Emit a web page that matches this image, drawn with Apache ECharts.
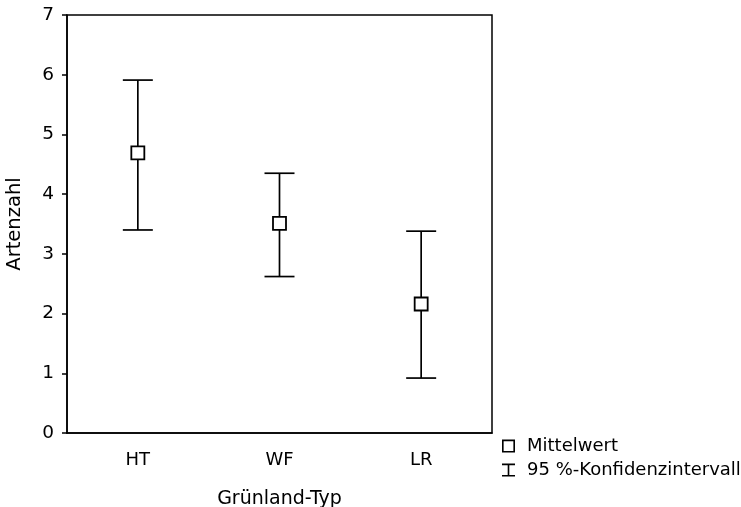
<!DOCTYPE html>
<html>
<head>
    <meta charset="utf-8"/>
    <script src="https://cdn.jsdelivr.net/npm/echarts@6/dist/echarts.min.js"></script>
    <style>
        html, body { margin: 0; padding: 0; background: #fff; }
        #container { width: 741px; height: 507px; }
    </style>
</head>
<body>
<div id="container"></div>
<script type="text/javascript">
    var categories = ['HT', 'WF', 'LR'];
    var means = [4.69, 3.51, 2.16];
    var upper = [5.91, 4.35, 3.38];
    var lower = [3.40, 2.62, 0.92];
    var yTicks = [0, 1, 2, 3, 4, 5, 6, 7];

    var font = 'DejaVu Sans';
    var ciData = [];
    for (var i = 0; i < categories.length; i++) {
        ciData.push([i, lower[i], upper[i]]);
    }

    function renderBar(params, api) {
        var x = api.value(0);
        var lo = api.coord([x, api.value(1)]);
        var hi = api.coord([x, api.value(2)]);
        var half = 15;
        var style = { stroke: '#000', lineWidth: 1.7 };
        return {
            type: 'group',
            children: [
                { type: 'line', shape: { x1: hi[0], y1: hi[1], x2: lo[0], y2: lo[1] }, style: style },
                { type: 'line', shape: { x1: hi[0] - half, y1: hi[1], x2: hi[0] + half, y2: hi[1] }, style: style },
                { type: 'line', shape: { x1: lo[0] - half, y1: lo[1], x2: lo[0] + half, y2: lo[1] }, style: style }
            ]
        };
    }

    var myChart = echarts.init(document.getElementById('container'));
    var option = {
        backgroundColor: '#fff',
        animation: false,
        textStyle: { fontFamily: font, color: '#000' },
        grid: {
            left: 67, top: 15, right: 249, bottom: 74,
            outerBoundsMode: 'none',
            containLabel: false,
            show: true, borderColor: '#000', borderWidth: 1.5, backgroundColor: 'transparent'
        },
        legend: {
            orient: 'vertical',
            left: 502,
            top: 437,
            padding: 0,
            itemWidth: 13,
            itemHeight: 13,
            itemGap: 6,
            selectedMode: false,
            textStyle: { fontFamily: font, fontSize: 18, color: '#000', padding: [0, 0, 0, 7] },
            data: [
                {
                    name: 'Mittelwert',
                    icon: 'path://M0,0h12v12h-12z M1.5,1.5v9h9v-9z',
                    itemStyle: { color: '#000', borderWidth: 0 }
                },
                {
                    name: '95 %-Konfidenzintervall',
                    icon: 'path://M0,0h12v1.5h-12z M5.25,0h1.5v12h-1.5z M0,10.5h12v1.5h-12z',
                    itemStyle: { color: '#000', borderWidth: 0 }
                }
            ]
        },
        xAxis: {
            type: 'category',
            data: categories,
            boundaryGap: true,
            name: 'Grünland-Typ',
            nameLocation: 'middle',
            nameGap: 57,
            nameTextStyle: { fontFamily: font, fontSize: 19, color: '#000' },
            axisLine: { lineStyle: { color: '#000', width: 1.5 } },
            axisTick: { alignWithLabel: true, length: 5, lineStyle: { color: '#000', width: 1.5 } },
            axisLabel: { fontFamily: font, fontSize: 18, color: '#000', margin: 18 },
            splitLine: { show: false }
        },
        yAxis: {
            type: 'value',
            min: yTicks[0],
            max: yTicks[yTicks.length - 1],
            interval: 1,
            name: 'Artenzahl',
            nameLocation: 'middle',
            nameGap: 42,
            nameTextStyle: { fontFamily: font, fontSize: 19.5, color: '#000' },
            axisLine: { show: true, lineStyle: { color: '#000', width: 1.5 } },
            axisTick: { show: true, length: 5, lineStyle: { color: '#000', width: 1.5 } },
            axisLabel: { fontFamily: font, fontSize: 18.5, color: '#000', margin: 13 },
            splitLine: { show: false }
        },
        series: [
            {
                name: '95 %-Konfidenzintervall',
                type: 'custom',
                renderItem: renderBar,
                encode: { x: 0, y: [1, 2] },
                itemStyle: { color: '#000' },
                data: ciData,
                z: 2
            },
            {
                name: 'Mittelwert',
                type: 'scatter',
                symbol: 'rect',
                symbolSize: 13,
                itemStyle: { color: '#fff', borderColor: '#000', borderWidth: 1.8, opacity: 1 },
                data: means,
                z: 3
            }
        ]
    };
    myChart.setOption(option, true);
</script>
</body>
</html>
